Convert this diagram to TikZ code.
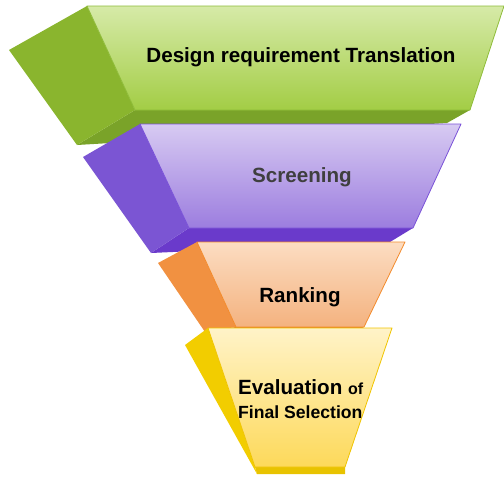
\documentclass[tikz,border=0pt]{standalone}
\usepackage{fontspec}
\setmainfont{Liberation Sans}
\definecolor{grnTop}{HTML}{D6EAA8}
\definecolor{grnBase}{HTML}{A3CD45}
\definecolor{grnSide}{HTML}{8AB52E}
\definecolor{grnBot}{HTML}{7AA329}
\definecolor{grnLine}{HTML}{8FBC3A}
\definecolor{purTop}{HTML}{D7CAF2}
\definecolor{purBase}{HTML}{9C7DDF}
\definecolor{purSide}{HTML}{7B55D3}
\definecolor{purBot}{HTML}{6A3ACB}
\definecolor{purLine}{HTML}{7A52D8}
\definecolor{orgTop}{HTML}{FCDDC2}
\definecolor{orgBase}{HTML}{F4B27F}
\definecolor{orgSide}{HTML}{F19141}
\definecolor{orgBot}{HTML}{E07A28}
\definecolor{orgLine}{HTML}{F38B2C}
\definecolor{ylwTop}{HTML}{FFF3C8}
\definecolor{ylwBase}{HTML}{FDD95A}
\definecolor{ylwSide}{HTML}{F2CD00}
\definecolor{ylwBot}{HTML}{E8C300}
\definecolor{ylwLine}{HTML}{F0C400}
\definecolor{txtGray}{HTML}{3F3F3F}
\tikzset{
  front/.style={line width=0.8pt,shading angle=0},
  stage/.style={font=\bfseries\fontsize{20.6}{24}\selectfont,inner sep=0pt},
}

\begin{document}
\begin{tikzpicture}[line cap=round,line join=round,x=1pt,y=-1pt]
				\useasboundingbox (0,0) rectangle (504,477);
				% design requirement translation
				\fill [color=grnBot] (135,110)-- (470,110)-- (447,123)-- (77,145)-- cycle;
				\fill [color=grnSide] (87,6)-- (9,50)-- (77,145)-- (135,110)-- cycle;
				\draw [front,draw=grnLine,top color=grnTop,bottom color=grnBase] (87,6)-- (504,6)-- (470,110)-- (135,110)-- cycle;
				% screening
				\fill [color=purBot] (189,228)-- (413,228)-- (390,242)-- (151,253)-- cycle;
				\fill [color=purSide] (140,124)-- (83,157)-- (151,253)-- (189,228)-- cycle;
				\draw [front,draw=purLine,top color=purTop,bottom color=purBase] (140,124)-- (461,124)-- (413,228)-- (189,228)-- cycle;
				% ranking
				\fill [color=orgBot] (236,327)-- (364,327)-- (350,335)-- (205,332)-- cycle;
				\fill [color=orgSide] (197,242)-- (158,263)-- (205,332)-- (236,327)-- cycle;
				\draw [front,draw=orgLine,top color=orgTop,bottom color=orgBase] (197,242)-- (405,242)-- (364,327)-- (236,327)-- cycle;
				% evaluation
				\fill [color=ylwBot] (255,467)-- (345,467)-- (345,474)-- (257,474)-- cycle;
				\fill [color=ylwSide] (208,328)-- (185,345)-- (257,474)-- (255,467)-- cycle;
				\draw [front,draw=ylwLine,top color=ylwTop,bottom color=ylwBase] (208,328)-- (392,328)-- (345,467)-- (255,467)-- cycle;
				% labels
				\node [stage] (design) at (301,57) {Design requirement Translation};
				\node [stage,color=txtGray] (screening) at (302,177) {Screening};
				\node [stage] (ranking) at (300,297) {Ranking};
				\node [stage,anchor=base west] (evaluation) at (238,394) {Evaluation {\fontsize{16}{19}\selectfont of}};
				\node [stage,anchor=base west,font=\bfseries\fontsize{17.6}{20}\selectfont] (selection) at (238,418) {Final Selection};
\end{tikzpicture}
\end{document}
